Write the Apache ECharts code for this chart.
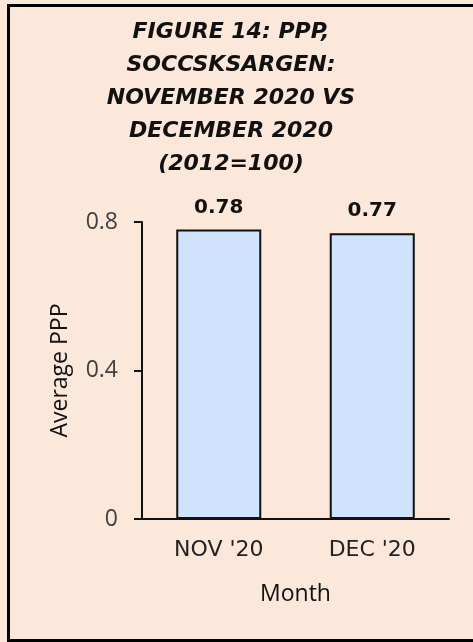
<!DOCTYPE html>
<html>
<head>
<meta charset="utf-8">
<title>PPP SOCCSKSARGEN</title>
<script src="https://cdn.jsdelivr.net/npm/echarts@6/dist/echarts.min.js"></script>
<style type="text/css">
	body { margin: 0; }
	div#chart { width: 473px; height: 642px; }
</style>
</head>
<body>
<div id="chart"></div>
<script type="text/javascript">
var months = ["NOV '20", "DEC '20"];
var ppp = [0.78, 0.77];
var yTicks = [0, 0.4, 0.8];

var myChart = echarts.init(document.getElementById("chart"));
var option = {
	backgroundColor: '#fce8da',
	title: {
		text: 'FIGURE 14: PPP,\nSOCCSKSARGEN:\nNOVEMBER 2020 VS\nDECEMBER 2020\n(2012=100)',
		left: 231,
		top: 16,
		textAlign: 'center',
		padding: 0,
		textStyle: {
			fontFamily: 'DejaVu Sans',
			fontWeight: 'bold',
			fontStyle: 'italic',
			fontSize: 22,
			lineHeight: 33,
			color: '#111'
		}
	},
	graphic: [{
		type: 'rect',
		shape: { x: 8.5, y: 5.5, width: 480, height: 635 },
		style: { fill: 'none', stroke: '#000', lineWidth: 3 },
		silent: true
	}],
	grid: { left: 142, right: 24, top: 222, bottom: 123 },
	xAxis: {
		type: 'category',
		data: months,
		name: 'Month',
		nameLocation: 'middle',
		nameGap: 64,
		nameTextStyle: { fontFamily: 'Open Sans', fontSize: 23, color: '#111' },
		axisLine: { lineStyle: { color: '#111', width: 2 } },
		axisTick: { show: false },
		axisLabel: { fontFamily: 'DejaVu Sans', fontSize: 22, color: '#222', margin: 20 }
	},
	yAxis: {
		type: 'value',
		min: yTicks[0],
		max: yTicks[yTicks.length - 1],
		interval: yTicks[1] - yTicks[0],
		name: 'Average PPP',
		nameLocation: 'middle',
		nameGap: 70,
		nameTextStyle: { fontFamily: 'Open Sans', fontSize: 23, color: '#111' },
		axisLine: { show: true, lineStyle: { color: '#111', width: 2 } },
		axisTick: { show: true, length: 8, lineStyle: { color: '#111', width: 2 } },
		splitLine: { show: false },
		axisLabel: {
			fontFamily: 'Open Sans', fontSize: 23, color: '#404040', margin: 24,
			formatter: function (v) { return String(v); }
		}
	},
	series: [{
		type: 'bar',
		data: ppp,
		barWidth: 85,
		itemStyle: { color: '#cfe3fc', borderColor: '#111', borderWidth: 2 },
		label: {
			show: true,
			position: 'top',
			distance: 12,
			fontFamily: 'DejaVu Sans',
			fontWeight: 'bold',
			fontSize: 20,
			color: '#111',
			formatter: function (p) { return p.value.toFixed(2); }
		}
	}]
};
myChart.setOption(option);
</script>
</body>
</html>
